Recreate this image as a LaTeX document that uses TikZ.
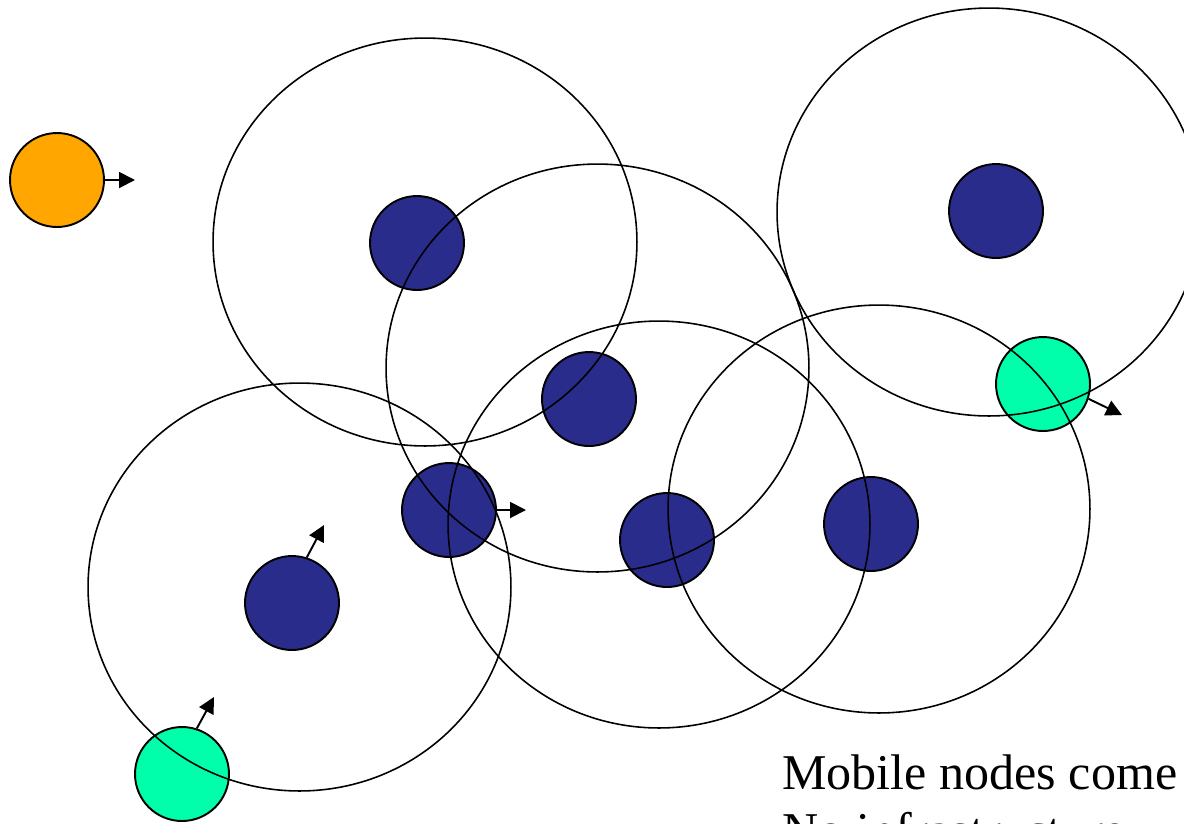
\documentclass[tikz,border=0pt]{standalone}
\usepackage{fontspec}
\setmainfont{Liberation Serif}
\usetikzlibrary{arrows.meta}
\definecolor{navy}{RGB}{42,44,139}
\definecolor{mint}{RGB}{0,255,170}
\definecolor{orng}{RGB}{255,166,0}
\tikzset{
  small/.style={circle,draw=black,line width=1.1pt,inner sep=0pt,minimum size=1.88cm},
  fixed/.style={small,fill=navy},
  mobile/.style={small,fill=mint},
  newnode/.style={small,fill=orng},
  radiorange/.style={draw=black,line width=0.9pt},
  mv/.style={draw=black,line width=1.1pt,-{Triangle[length=0.32cm,width=0.32cm]}},
  lbl/.style={anchor=base west,inner sep=0pt,font=\fontsize{28.5}{33}\selectfont}
}
\begin{document}
\begin{tikzpicture}[x=0.02cm,y=-0.02cm]
\useasboundingbox (0,0) rectangle (1184,823);
% small nodes
\node[newnode] (o) at (57,180) {};
\node[fixed] (n1) at (417,243) {};
\node[fixed] (n2) at (589,399) {};
\node[fixed] (n3) at (449,510) {};
\node[fixed] (n4) at (667,540) {};
\node[fixed] (n5) at (871,524) {};
\node[fixed] (n6) at (292,603) {};
\node[fixed] (n7) at (996,211) {};
\node[mobile] (g1) at (1043,384) {};
\node[mobile] (g2) at (182,774) {};
% ranges
\draw[radiorange] (425,242) ellipse [x radius=4.24cm, y radius=4.08cm];
\draw[radiorange] (597.5,368) ellipse [x radius=4.23cm, y radius=4.08cm];
\draw[radiorange] (659,524.5) ellipse [x radius=4.22cm, y radius=4.07cm];
\draw[radiorange] (879,509) ellipse [x radius=4.22cm, y radius=4.08cm];
\draw[radiorange] (989,212) ellipse [x radius=4.24cm, y radius=4.08cm];
\draw[radiorange] (299.5,587) ellipse [x radius=4.23cm, y radius=4.08cm];
% motion arrows
\coordinate (oa) at (135,180);
\coordinate (n3a) at (526,510);
\coordinate (n6a) at (324,525);
\coordinate (g2a) at (214,697);
\coordinate (g1a) at (1122,415);
\draw[mv] (o.east) -- (oa);
\draw[mv] (n3.east) -- (n3a);
\draw[mv] (n6.72) -- (n6a);
\draw[mv] (g2.72) -- (g2a);
\draw[mv] (g1.-18) -- (g1a);
% text
\node[lbl] (t1) at (782,789) {Mobile nodes come};
\node[lbl] (t2) at (782,847) {No infrastructure};
\end{tikzpicture}
\end{document}
